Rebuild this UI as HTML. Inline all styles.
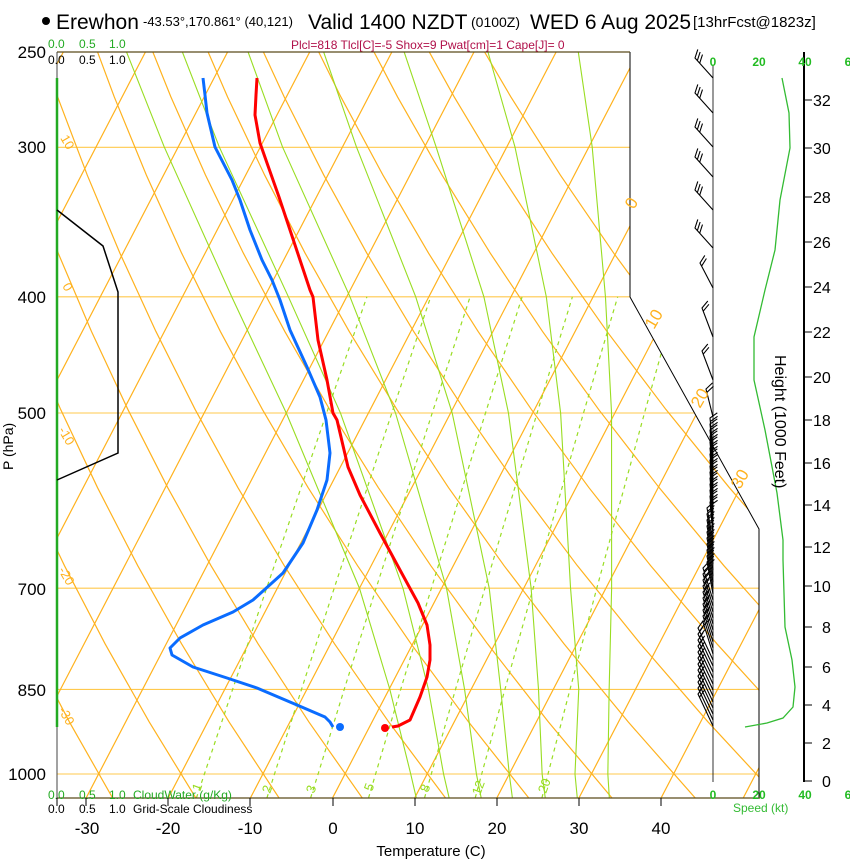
<!DOCTYPE html>
<html><head><meta charset="utf-8">
<style>
html,body{margin:0;padding:0;background:#fff;}
svg{display:block;font-family:"Liberation Sans",Arial,sans-serif;}
.ve{vector-effect:non-scaling-stroke;}
</style></head>
<body>
<svg width="850" height="860" viewBox="0 0 850 860" xmlns="http://www.w3.org/2000/svg" xmlns:xlink="http://www.w3.org/1999/xlink">
<defs>
<clipPath id="cp"><polygon points="57,52 630,52 630,297 759,529 759,798 57,798"/></clipPath>
<path id="BU" d="M0,0 l-18,-20 l2.8,-8.6 m-0.46,11.2 l2.8,-8.6 m-0.46,11.2 l2.8,-8.6"/>
<path id="B13" d="M0,0 l-13,-25 l4.8,-7.6 m-3.2,10.7 l4.8,-7.6"/>
<path id="B11" d="M0,0 l-11,-29 l5.8,-7 m-4.7,10.3 l5.8,-7"/>
<path id="B7" d="M0,0 l-7,-28 l6.5,-6.1 m-5.6,9.5 l6.5,-6.1"/>
<path id="B3" d="M0,0 l-3,-32 l7.3,-5.2 m-7,8.7 l7.3,-5.2"/>
<path id="B6" d="M0,0 l-6,-32 l6.8,-5.9 m-6.2,9.3 l6.8,-5.9"/>
<path id="B10" d="M0,0 l-10,-32 l6.1,-6.6 m-5.1,9.9 l6.1,-6.6"/>
<path id="B15" d="M0,0 l-15,-32 l5.2,-7.4 m-3.7,10.6 l5.2,-7.4"/>
</defs>
<rect width="850" height="860" fill="#fff"/>
<g clip-path="url(#cp)" fill="none">
<!-- isobars -->
<g stroke="#ffc94d" stroke-width="1.1">
<line x1="57" y1="147.3" x2="760" y2="147.3"/><line x1="57" y1="296.8" x2="760" y2="296.8"/><line x1="57" y1="413" x2="760" y2="413"/><line x1="57" y1="588.2" x2="760" y2="588.2"/><line x1="57" y1="689.4" x2="760" y2="689.4"/><line x1="57" y1="774" x2="760" y2="774"/>
</g>
<!-- isotherms -->
<path class="ve" stroke="#ffb21e" stroke-width="1.2" transform="matrix(8.214,0,270.8,-520.8,345,774)" d="M-80,-0.05L-80,1.4M-70,-0.05L-70,1.4M-60,-0.05L-60,1.4M-50,-0.05L-50,1.4M-40,-0.05L-40,1.4M-30,-0.05L-30,1.4M-20,-0.05L-20,1.4M-10,-0.05L-10,1.4M0,-0.05L0,1.4M10,-0.05L10,1.4M20,-0.05L20,1.4M30,-0.05L30,1.4M40,-0.05L40,1.4M50,-0.05L50,1.4"/>
<!-- dry adiabats -->
<g stroke="#ffb21e" stroke-width="1.2">
<path class="ve" transform="matrix(8.214,0,270.8,-520.8,345,774) translate(-273.15,0) scale(233.15,1)" d="M1.014388,-0.05L0.971834,0.1L0.931066,0.25L0.892001,0.4L0.854590,0.55L0.818739,0.7L0.784392,0.85L0.751483,1L0.719960,1.15L0.689759,1.3L0.660824,1.45"/>
<path class="ve" transform="matrix(8.214,0,270.8,-520.8,345,774) translate(-273.15,0) scale(243.15,1)" d="M1.014388,-0.05L0.971834,0.1L0.931066,0.25L0.892001,0.4L0.854590,0.55L0.818739,0.7L0.784392,0.85L0.751483,1L0.719960,1.15L0.689759,1.3L0.660824,1.45"/>
<path class="ve" transform="matrix(8.214,0,270.8,-520.8,345,774) translate(-273.15,0) scale(253.15,1)" d="M1.014388,-0.05L0.971834,0.1L0.931066,0.25L0.892001,0.4L0.854590,0.55L0.818739,0.7L0.784392,0.85L0.751483,1L0.719960,1.15L0.689759,1.3L0.660824,1.45"/>
<path class="ve" transform="matrix(8.214,0,270.8,-520.8,345,774) translate(-273.15,0) scale(263.15,1)" d="M1.014388,-0.05L0.971834,0.1L0.931066,0.25L0.892001,0.4L0.854590,0.55L0.818739,0.7L0.784392,0.85L0.751483,1L0.719960,1.15L0.689759,1.3L0.660824,1.45"/>
<path class="ve" transform="matrix(8.214,0,270.8,-520.8,345,774) translate(-273.15,0) scale(273.15,1)" d="M1.014388,-0.05L0.971834,0.1L0.931066,0.25L0.892001,0.4L0.854590,0.55L0.818739,0.7L0.784392,0.85L0.751483,1L0.719960,1.15L0.689759,1.3L0.660824,1.45"/>
<path class="ve" transform="matrix(8.214,0,270.8,-520.8,345,774) translate(-273.15,0) scale(283.15,1)" d="M1.014388,-0.05L0.971834,0.1L0.931066,0.25L0.892001,0.4L0.854590,0.55L0.818739,0.7L0.784392,0.85L0.751483,1L0.719960,1.15L0.689759,1.3L0.660824,1.45"/>
<path class="ve" transform="matrix(8.214,0,270.8,-520.8,345,774) translate(-273.15,0) scale(293.15,1)" d="M1.014388,-0.05L0.971834,0.1L0.931066,0.25L0.892001,0.4L0.854590,0.55L0.818739,0.7L0.784392,0.85L0.751483,1L0.719960,1.15L0.689759,1.3L0.660824,1.45"/>
<path class="ve" transform="matrix(8.214,0,270.8,-520.8,345,774) translate(-273.15,0) scale(303.15,1)" d="M1.014388,-0.05L0.971834,0.1L0.931066,0.25L0.892001,0.4L0.854590,0.55L0.818739,0.7L0.784392,0.85L0.751483,1L0.719960,1.15L0.689759,1.3L0.660824,1.45"/>
<path class="ve" transform="matrix(8.214,0,270.8,-520.8,345,774) translate(-273.15,0) scale(313.15,1)" d="M1.014388,-0.05L0.971834,0.1L0.931066,0.25L0.892001,0.4L0.854590,0.55L0.818739,0.7L0.784392,0.85L0.751483,1L0.719960,1.15L0.689759,1.3L0.660824,1.45"/>
<path class="ve" transform="matrix(8.214,0,270.8,-520.8,345,774) translate(-273.15,0) scale(323.15,1)" d="M1.014388,-0.05L0.971834,0.1L0.931066,0.25L0.892001,0.4L0.854590,0.55L0.818739,0.7L0.784392,0.85L0.751483,1L0.719960,1.15L0.689759,1.3L0.660824,1.45"/>
<path class="ve" transform="matrix(8.214,0,270.8,-520.8,345,774) translate(-273.15,0) scale(333.15,1)" d="M1.014388,-0.05L0.971834,0.1L0.931066,0.25L0.892001,0.4L0.854590,0.55L0.818739,0.7L0.784392,0.85L0.751483,1L0.719960,1.15L0.689759,1.3L0.660824,1.45"/>
<path class="ve" transform="matrix(8.214,0,270.8,-520.8,345,774) translate(-273.15,0) scale(343.15,1)" d="M1.014388,-0.05L0.971834,0.1L0.931066,0.25L0.892001,0.4L0.854590,0.55L0.818739,0.7L0.784392,0.85L0.751483,1L0.719960,1.15L0.689759,1.3L0.660824,1.45"/>
<path class="ve" transform="matrix(8.214,0,270.8,-520.8,345,774) translate(-273.15,0) scale(353.15,1)" d="M1.014388,-0.05L0.971834,0.1L0.931066,0.25L0.892001,0.4L0.854590,0.55L0.818739,0.7L0.784392,0.85L0.751483,1L0.719960,1.15L0.689759,1.3L0.660824,1.45"/>
<path class="ve" transform="matrix(8.214,0,270.8,-520.8,345,774) translate(-273.15,0) scale(363.15,1)" d="M1.014388,-0.05L0.971834,0.1L0.931066,0.25L0.892001,0.4L0.854590,0.55L0.818739,0.7L0.784392,0.85L0.751483,1L0.719960,1.15L0.689759,1.3L0.660824,1.45"/>
</g>
<!-- mixing ratio -->
<g stroke="#99dd22" stroke-width="1.2" stroke-dasharray="4,4">
<polyline points="196.4,798 204.4,774 232.6,689.4 266.6,588.2 326.6,413 366.9,296.8"/>
<polyline points="266.9,798 274.5,774 301.5,689.4 334.2,588.2 391.8,413 430.7,296.8"/>
<polyline points="310.6,798 318.1,774 344.2,689.4 376.1,588.2 432.2,413 470.1,296.8"/>
<polyline points="368.5,798 375.6,774 400.7,689.4 431.4,588.2 485.5,413 522.1,296.8"/>
<polyline points="424.5,798 431.3,774 455.5,689.4 484.9,588.2 537.1,413 572.4,296.8"/>
<polyline points="475.2,798 481.7,774 504.9,689.4 533.2,588.2 583.5,413 617.7,296.8"/>
<polyline points="541.9,798 548,774 570,689.4 596.8,588.2 644.5,413 677.1,296.8"/>
</g>
<!-- moist adiabats -->
<g stroke="#99dd22" stroke-width="1.1">
<path class="ve" transform="matrix(8.214,0,270.8,-520.8,345,774)" d="M10.2,-0.0461L8,0L0.1,0.1625L-10,0.3567L-30,0.6931L-44,0.9163L-61.7,1.204L-72.3,1.3863"/>
<path class="ve" transform="matrix(8.214,0,270.8,-520.8,345,774)" d="M14.2,-0.0461L12,0L4.8,0.1625L-4.7,0.3567L-23.4,0.6931L-37.1,0.9163L-55,1.204L-65.5,1.3863"/>
<path class="ve" transform="matrix(8.214,0,270.8,-520.8,345,774)" d="M18.1,-0.0461L16,0L9.2,0.1625L0.6,0.3567L-16.7,0.6931L-29.6,0.9163L-47.3,1.204L-57.5,1.3863"/>
<path class="ve" transform="matrix(8.214,0,270.8,-520.8,345,774)" d="M21.9,-0.0461L20,0L13.6,0.1625L5.8,0.3567L-9.8,0.6931L-21.6,0.9163L-38.3,1.204L-48.3,1.3863"/>
<path class="ve" transform="matrix(8.214,0,270.8,-520.8,345,774)" d="M25.9,-0.0461L24,0L18.2,0.1625L10.9,0.3567L-2.95,0.6931L-13.3,0.9163L-28.6,1.204L-38.5,1.3863"/>
<path class="ve" transform="matrix(8.214,0,270.8,-520.8,345,774)" d="M29.8,-0.0461L28,0L23.1,0.1625L15.7,0.3567L3.4,0.6931L-5.7,0.9163L-19,1.204L-28.3,1.3863"/>
<path class="ve" transform="matrix(8.214,0,270.8,-520.8,345,774)" d="M33.7,-0.0461L32,0L26.8,0.1625L20.7,0.3567L9.6,0.6931L1.5,0.9163L-9.6,1.204L-17.3,1.3863"/>
</g>
</g>
<!-- frame -->
<polyline points="630,52 630,297 759,529 759,798" fill="none" stroke="#000" stroke-width="1"/>
<line x1="57" y1="52" x2="630" y2="52" stroke="#5a4a1a" stroke-width="1.2"/>
<line x1="57" y1="798" x2="760" y2="798" stroke="#5a4a1a" stroke-width="1.2"/>
<line x1="57" y1="52" x2="57" y2="798" stroke="#444" stroke-width="1"/>
<line x1="57" y1="78" x2="57" y2="727" stroke="#22aa22" stroke-width="2.5"/>
<polyline points="57,210 103,246 118,292 118,453 57,480" fill="none" stroke="#000" stroke-width="1.5"/>
<!-- wind staff & barbs -->
<line x1="713" y1="65" x2="713" y2="782" stroke="#000" stroke-width="0.8"/>
<g stroke="#000" stroke-width="1.1" fill="none">
<use href="#BU" xlink:href="#BU" x="713" y="78"/><use href="#BU" xlink:href="#BU" x="713" y="113"/><use href="#BU" xlink:href="#BU" x="713" y="147"/><use href="#BU" xlink:href="#BU" x="713" y="177"/><use href="#BU" xlink:href="#BU" x="713" y="210"/><use href="#BU" xlink:href="#BU" x="713" y="248"/>
<use href="#B13" xlink:href="#B13" x="713" y="288"/><use href="#B11" xlink:href="#B11" x="713" y="337"/><use href="#B11" xlink:href="#B11" x="713" y="380"/><use href="#B7" xlink:href="#B7" x="713" y="417"/>
<use href="#B3" xlink:href="#B3" x="713" y="450"/><use href="#B3" xlink:href="#B3" x="713" y="456"/><use href="#B3" xlink:href="#B3" x="713" y="462"/><use href="#B3" xlink:href="#B3" x="713" y="468"/><use href="#B3" xlink:href="#B3" x="713" y="474"/><use href="#B3" xlink:href="#B3" x="713" y="480"/><use href="#B3" xlink:href="#B3" x="713" y="486"/><use href="#B3" xlink:href="#B3" x="713" y="492"/><use href="#B3" xlink:href="#B3" x="713" y="498"/><use href="#B3" xlink:href="#B3" x="713" y="504"/><use href="#B3" xlink:href="#B3" x="713" y="510"/><use href="#B3" xlink:href="#B3" x="713" y="516"/><use href="#B3" xlink:href="#B3" x="713" y="522"/><use href="#B3" xlink:href="#B3" x="713" y="528"/><use href="#B3" xlink:href="#B3" x="713" y="534"/>
<use href="#B6" xlink:href="#B6" x="713" y="540"/><use href="#B6" xlink:href="#B6" x="713" y="546"/><use href="#B6" xlink:href="#B6" x="713" y="552"/><use href="#B6" xlink:href="#B6" x="713" y="558"/><use href="#B6" xlink:href="#B6" x="713" y="564"/><use href="#B6" xlink:href="#B6" x="713" y="570"/><use href="#B6" xlink:href="#B6" x="713" y="576"/><use href="#B6" xlink:href="#B6" x="713" y="582"/><use href="#B6" xlink:href="#B6" x="713" y="588"/><use href="#B6" xlink:href="#B6" x="713" y="594"/>
<use href="#B10" xlink:href="#B10" x="713" y="600"/><use href="#B10" xlink:href="#B10" x="713" y="606"/><use href="#B10" xlink:href="#B10" x="713" y="612"/><use href="#B10" xlink:href="#B10" x="713" y="618"/><use href="#B10" xlink:href="#B10" x="713" y="624"/><use href="#B10" xlink:href="#B10" x="713" y="630"/><use href="#B10" xlink:href="#B10" x="713" y="636"/><use href="#B10" xlink:href="#B10" x="713" y="642"/><use href="#B10" xlink:href="#B10" x="713" y="648"/><use href="#B10" xlink:href="#B10" x="713" y="654"/>
<use href="#B15" xlink:href="#B15" x="713" y="660"/><use href="#B15" xlink:href="#B15" x="713" y="666"/><use href="#B15" xlink:href="#B15" x="713" y="672"/><use href="#B15" xlink:href="#B15" x="713" y="678"/><use href="#B15" xlink:href="#B15" x="713" y="684"/><use href="#B15" xlink:href="#B15" x="713" y="690"/><use href="#B15" xlink:href="#B15" x="713" y="696"/><use href="#B15" xlink:href="#B15" x="713" y="702"/><use href="#B15" xlink:href="#B15" x="713" y="708"/><use href="#B15" xlink:href="#B15" x="713" y="714"/><use href="#B15" xlink:href="#B15" x="713" y="720"/><use href="#B15" xlink:href="#B15" x="713" y="726"/>
</g>
<!-- speed line -->
<polyline points="782,78 789,113 790,148 780,200 775,250 765,290 754,337 754,380 765,430 777,493 783,540 783,560 785,627 792,660 795,687 793,707 783,718 767,723 745,727" fill="none" stroke="#33bb33" stroke-width="1.3"/>
<!-- height axis -->
<line x1="804" y1="52" x2="804" y2="782" stroke="#000" stroke-width="2"/>
<g stroke="#000" stroke-width="1">
<line x1="804" x2="812" y1="781" y2="781"/><line x1="804" x2="812" y1="743" y2="743"/><line x1="804" x2="812" y1="705" y2="705"/><line x1="804" x2="812" y1="667" y2="667"/><line x1="804" x2="812" y1="627" y2="627"/><line x1="804" x2="812" y1="586" y2="586"/><line x1="804" x2="812" y1="547" y2="547"/><line x1="804" x2="812" y1="505" y2="505"/><line x1="804" x2="812" y1="463" y2="463"/><line x1="804" x2="812" y1="420" y2="420"/><line x1="804" x2="812" y1="377" y2="377"/><line x1="804" x2="812" y1="332" y2="332"/><line x1="804" x2="812" y1="287" y2="287"/><line x1="804" x2="812" y1="242" y2="242"/><line x1="804" x2="812" y1="197" y2="197"/><line x1="804" x2="812" y1="148" y2="148"/><line x1="804" x2="812" y1="100" y2="100"/>
</g>
<g font-size="16" fill="#000">
<text x="822" y="787">0</text><text x="822" y="749">2</text><text x="822" y="711">4</text><text x="822" y="673">6</text><text x="822" y="633">8</text>
<text x="813" y="592">10</text><text x="813" y="553">12</text><text x="813" y="511">14</text><text x="813" y="469">16</text><text x="813" y="426">18</text>
<text x="813" y="383">20</text><text x="813" y="338">22</text><text x="813" y="293">24</text><text x="813" y="248">26</text><text x="813" y="203">28</text>
<text x="813" y="154">30</text><text x="813" y="106">32</text>
</g>
<text x="0" y="0" font-size="16" transform="translate(775,355) rotate(90)">Height (1000 Feet)</text>
<!-- profiles -->
<polyline points="257,78 256,95 255,115 260,143 267,163 279,197 290,230 300,260 310,290 313,297 318,340 327,380 333,413 337,420 348,467 360,495 380,533 400,570 418,603 427,625 430,645 430,660 427,677 420,697 410,720 398,726 392,727" fill="none" stroke="#ff0000" stroke-width="3" stroke-linejoin="round"/>
<circle cx="385" cy="728" r="4" fill="#ff0000"/>
<polyline points="203,78 205,95 207,113 215,147 232,180 240,200 250,230 262,260 272,280 280,300 290,330 307,367 320,397 326,420 330,453 327,480 317,510 303,543 283,573 253,600 233,612 203,625 180,638 170,648 172,655 193,667 227,678 257,688 297,705 325,717 330,722 333,727" fill="none" stroke="#0a6cff" stroke-width="3" stroke-linejoin="round"/>
<circle cx="340" cy="727" r="4" fill="#0a6cff"/>
<!-- header -->
<circle cx="46" cy="21" r="4" fill="#000"/>
<text x="56" y="29" font-size="21">Erewhon</text>
<text x="143" y="26" font-size="13">-43.53°,170.861° (40,121)</text>
<text x="308" y="29" font-size="21">Valid 1400 NZDT</text>
<text x="471" y="27" font-size="14">(0100Z)</text>
<text x="530" y="29" font-size="21">WED 6 Aug 2025</text>
<text x="693" y="27" font-size="15">[13hrFcst@1823z]</text>
<text x="291" y="49" font-size="12" fill="#b0104a">Plcl=818 Tlcl[C]=-5 Shox=9 Pwat[cm]=1 Cape[J]= 0</text>
<g font-size="12" fill="#22aa22"><text x="48" y="48">0.0</text><text x="79" y="48">0.5</text><text x="109" y="48">1.0</text></g>
<g font-size="12" fill="#000"><text x="48" y="64">0.0</text><text x="79" y="64">0.5</text><text x="109" y="64">1.0</text></g>
<g font-size="12" fill="#22aa22"><text x="48" y="799">0.0</text><text x="79" y="799">0.5</text><text x="109" y="799">1.0</text><text x="133" y="799">CloudWater (g/Kg)</text></g>
<g font-size="12" fill="#000"><text x="48" y="813">0.0</text><text x="79" y="813">0.5</text><text x="109" y="813">1.0</text><text x="133" y="813">Grid-Scale Cloudiness</text></g>
<g font-size="17" fill="#000" text-anchor="end">
<text x="46" y="58">250</text><text x="46" y="153">300</text><text x="46" y="303">400</text><text x="46" y="419">500</text><text x="46" y="595">700</text><text x="46" y="696">850</text><text x="46" y="780">1000</text>
</g>
<text font-size="14" transform="translate(13,470) rotate(-90)">P (hPa)</text>
<g stroke="#000" stroke-width="1">
<line x1="57" y1="798" x2="57" y2="806"/><line x1="86" y1="798" x2="86" y2="806"/><line x1="168" y1="798" x2="168" y2="806"/><line x1="250" y1="798" x2="250" y2="806"/><line x1="333" y1="798" x2="333" y2="806"/><line x1="415" y1="798" x2="415" y2="806"/><line x1="497" y1="798" x2="497" y2="806"/><line x1="579" y1="798" x2="579" y2="806"/><line x1="661" y1="798" x2="661" y2="806"/>
</g>
<g font-size="17" fill="#000" text-anchor="middle">
<text x="87" y="834">-30</text><text x="168" y="834">-20</text><text x="250" y="834">-10</text><text x="333" y="834">0</text><text x="415" y="834">10</text><text x="497" y="834">20</text><text x="579" y="834">30</text><text x="661" y="834">40</text>
</g>
<text x="431" y="856" font-size="15" text-anchor="middle">Temperature (C)</text>
<g font-size="12" font-weight="bold" fill="#22bb22" text-anchor="middle">
<text x="713" y="66">0</text><text x="759" y="66">20</text><text x="805" y="66">40</text><text x="848" y="66">6</text>
<text x="713" y="799">0</text><text x="759" y="799">20</text><text x="805" y="799">40</text><text x="848" y="799">6</text>
</g>
<text x="733" y="812" font-size="12" fill="#33bb33">Speed (kt)</text>
<g font-size="17" fill="#ffb21e">
<text transform="translate(634,210) rotate(-60)">0</text>
<text transform="translate(654,330) rotate(-60)">10</text>
<text transform="translate(700,409) rotate(-60)">20</text>
<text transform="translate(740,490) rotate(-60)">30</text>
</g>
<g font-size="13" fill="#ffb21e">
<text transform="translate(60,138) rotate(60)">10</text>
<text transform="translate(62,286) rotate(60)">0</text>
<text transform="translate(58,430) rotate(60)">-10</text>
<text transform="translate(58,570) rotate(60)">-20</text>
<text transform="translate(58,710) rotate(60)">-30</text>
</g>
<g font-size="13" fill="#99dd22">
<text transform="translate(200,792) rotate(-70)">1</text>
<text transform="translate(270,794) rotate(-70)">2</text>
<text transform="translate(314,794) rotate(-70)">3</text>
<text transform="translate(372,792) rotate(-70)">5</text>
<text transform="translate(428,793) rotate(-70)">8</text>
<text transform="translate(480,796) rotate(-70)">12</text>
<text transform="translate(546,794) rotate(-70)">20</text>
</g>
</svg>
</body></html>
